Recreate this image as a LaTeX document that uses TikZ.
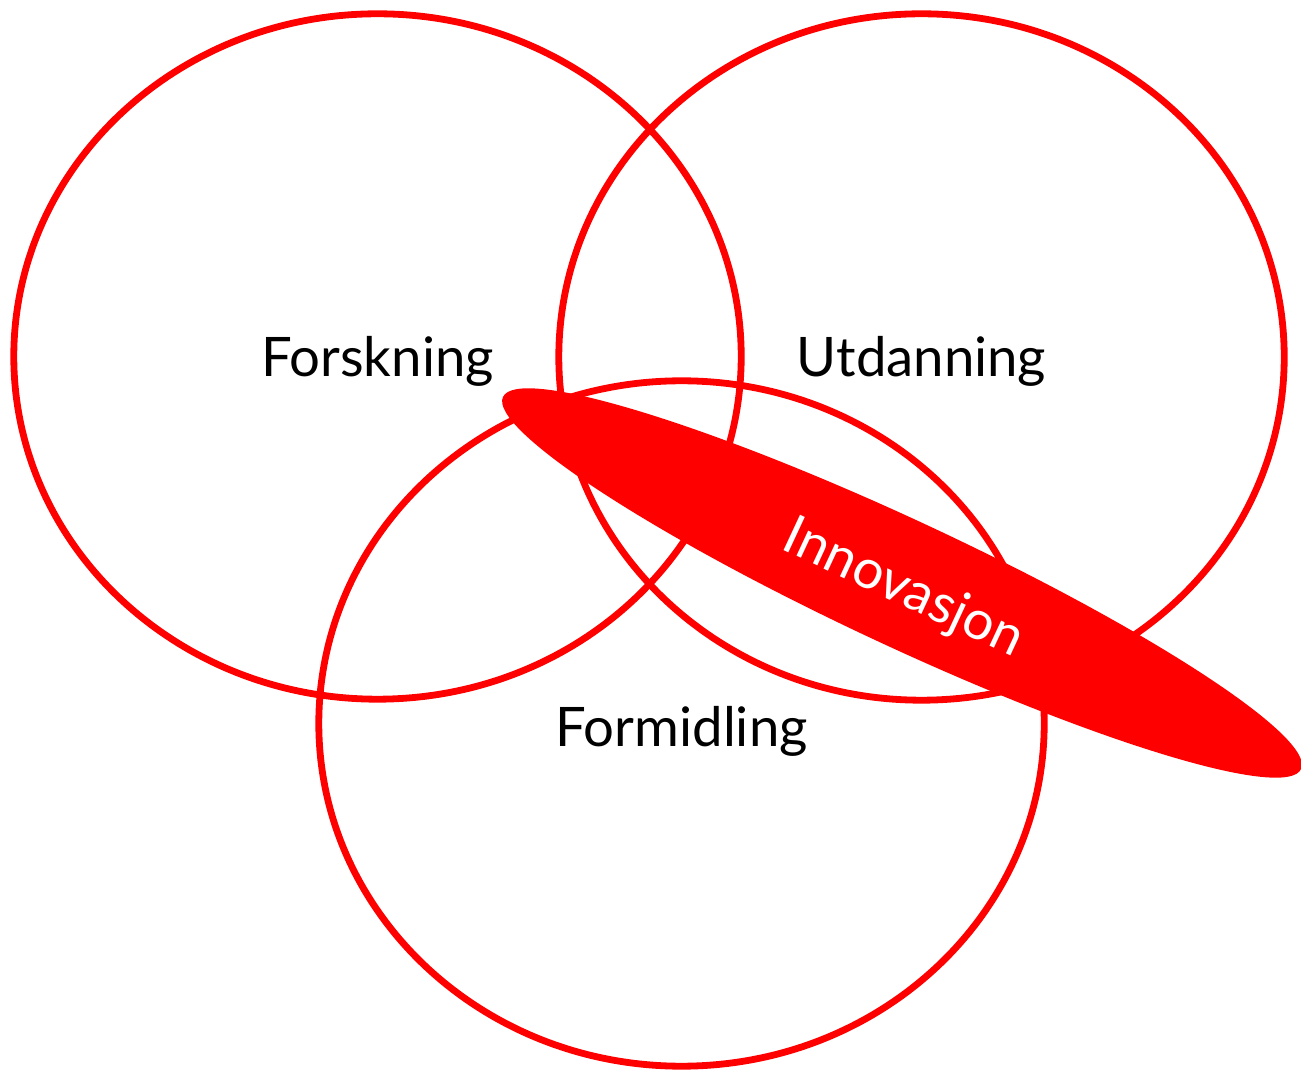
\documentclass[tikz,border=0pt]{standalone}
\usepackage{fontspec}
\setmainfont{Lato}
\definecolor{vred}{HTML}{FF0000}
\begin{document}
\begin{tikzpicture}[x=0.01cm,y=-0.01cm,
  ring/.style={draw=vred, line width=0.068cm},
  blade/.style={fill=vred},
  lbl/.style={font=\fontsize{15.5}{18}\selectfont, text=black, inner sep=0pt, anchor=base},
  lblw/.style={lbl, text=white}]
  \clip (0,0) rectangle (1301,1071);
  \fill[white] (0,0) rectangle (1301,1071);
  % three circles
  \draw[ring] (377.5,356.5) ellipse [x radius=3.635cm, y radius=3.425cm];
  \draw[ring] (921.5,357) ellipse [x radius=3.625cm, y radius=3.43cm];
  \draw[ring] (681.5,723.5) ellipse [x radius=3.625cm, y radius=3.425cm];
  % innovation blade
  \fill[blade, rotate around={-25:(902,583)}] (902,583) ellipse [x radius=4.40cm, y radius=0.63cm];
  % labels
  \node[lbl] (forskning) at (377.5,377) {Forskning};
  \node[lbl] (utdanning) at (921.5,377) {Utdanning};
  \node[lbl] (formidling) at (681.5,747) {Formidling};
  \node[lblw, rotate=-25] (innovasjon) at (897,603) {Innovasjon};
\end{tikzpicture}
\end{document}
